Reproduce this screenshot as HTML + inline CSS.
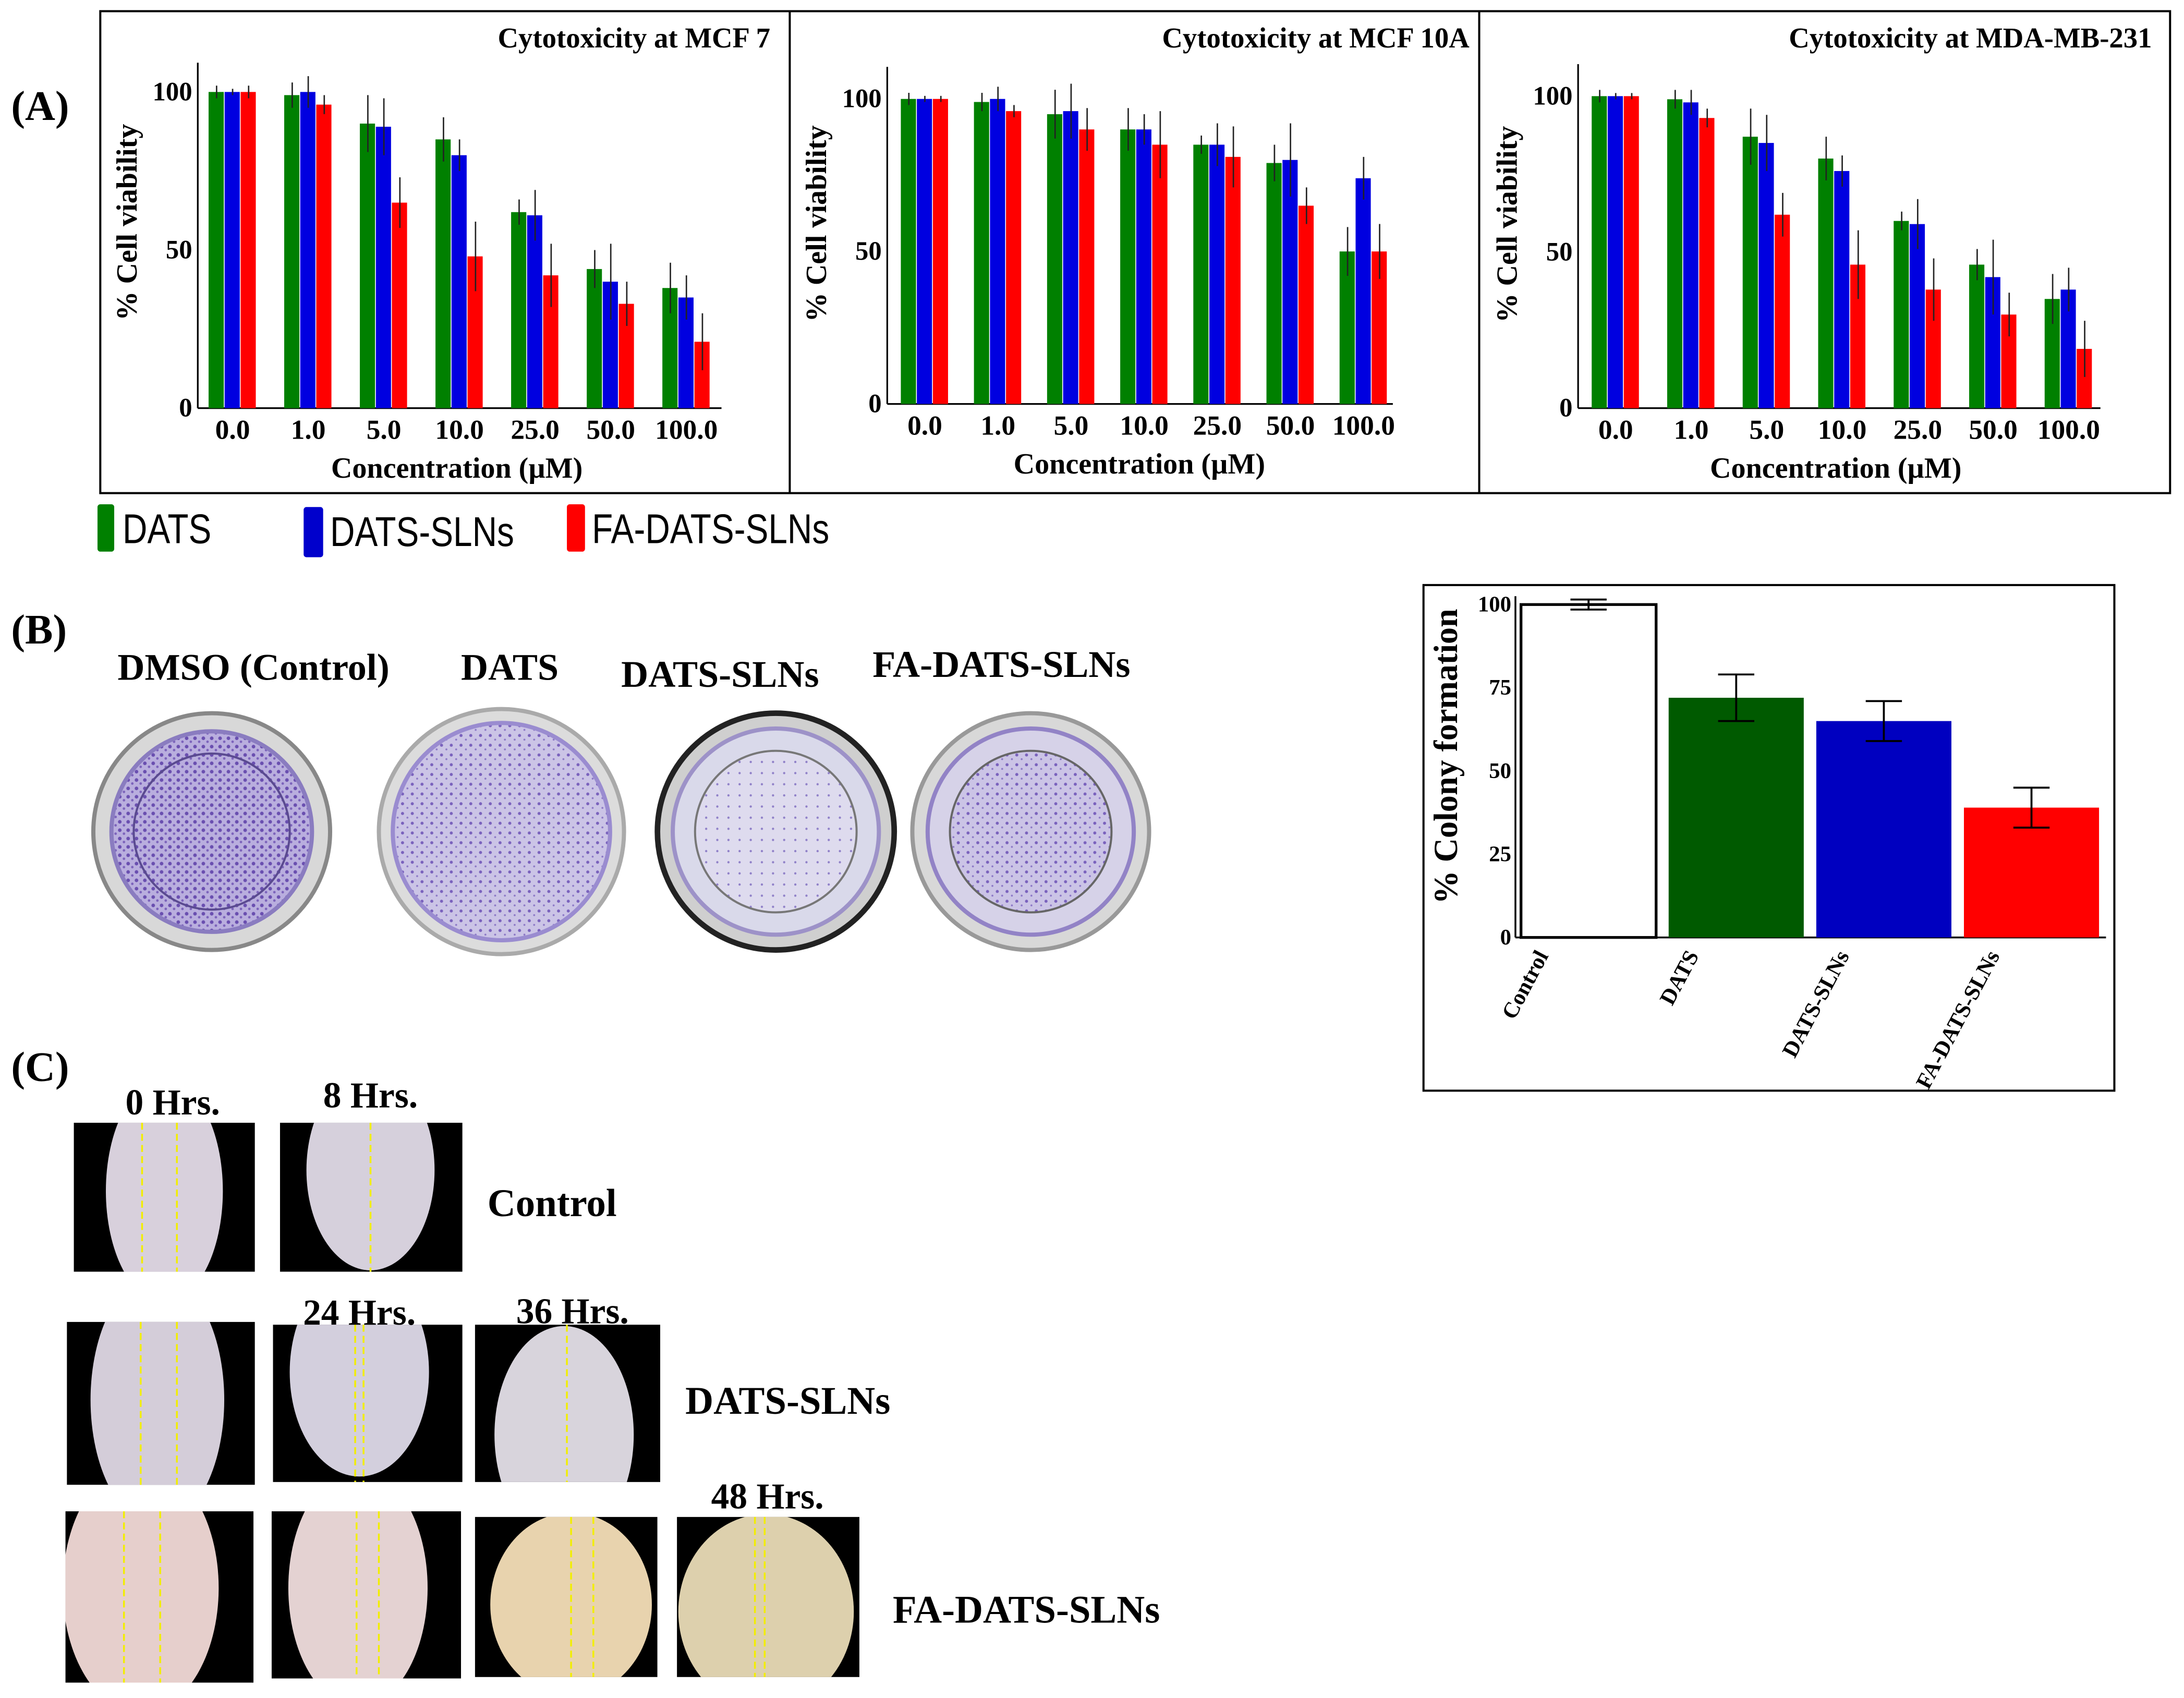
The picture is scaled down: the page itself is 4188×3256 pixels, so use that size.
<!DOCTYPE html>
<html><head><meta charset="utf-8"><style>
html,body{margin:0;padding:0;background:#fff}
svg{display:block}
text{font-family:"Liberation Serif",serif;font-weight:bold;fill:#000}
</style></head><body>
<svg id="fig" xmlns="http://www.w3.org/2000/svg" width="4188" height="3256" viewBox="0 0 1568 1219">
<defs>
<pattern id="dotsDark" width="6" height="6" patternUnits="userSpaceOnUse"><rect width="6" height="6" fill="#b9aede"/><circle cx="2" cy="2" r="1.3" fill="#6a4fb0"/><circle cx="5" cy="4.5" r="0.9" fill="#7c63bb"/></pattern>
<pattern id="dotsMid" width="7" height="7" patternUnits="userSpaceOnUse"><rect width="7" height="7" fill="#cbc4e6"/><circle cx="2" cy="3" r="1.1" fill="#7a62bd"/><circle cx="5.5" cy="6" r="0.7" fill="#8c78c6"/></pattern>
<pattern id="dotsLight" width="8" height="8" patternUnits="userSpaceOnUse"><rect width="8" height="8" fill="#dedbee"/><circle cx="3" cy="3" r="0.8" fill="#8f80c8"/></pattern>
</defs>

<rect x="72" y="8" width="1486" height="346" fill="none" stroke="#000" stroke-width="1.5"/>
<line x1="567" y1="8" x2="567" y2="354" stroke="#000" stroke-width="1.5"/>
<line x1="1062" y1="8" x2="1062" y2="354" stroke="#000" stroke-width="1.5"/>
<text x="8" y="86" font-size="30">(A)</text>
<g id="chartA1"></g>
<g id="chartA2"></g>
<g id="chartA3"></g>

<g>
<g><rect x="70" y="362" width="12" height="34" rx="2" fill="#008000"/><text x="88" y="390" font-size="30" style="font-family:'Liberation Sans',sans-serif;font-weight:normal" transform="translate(88 0) scale(0.82 1) translate(-88 0)">DATS</text></g>
<g><rect x="218" y="364" width="14" height="36" rx="2" fill="#0000cc"/><text x="237" y="392" font-size="30" style="font-family:'Liberation Sans',sans-serif;font-weight:normal" transform="translate(237 0) scale(0.82 1) translate(-237 0)">DATS-SLNs</text></g>
<g><rect x="407" y="362" width="13" height="34" rx="2" fill="#ff0000"/><text x="425" y="390" font-size="30" style="font-family:'Liberation Sans',sans-serif;font-weight:normal" transform="translate(425 0) scale(0.82 1) translate(-425 0)">FA-DATS-SLNs</text></g>
</g>

<text x="8" y="462" font-size="30">(B)</text>
<text x="182" y="488" font-size="27" text-anchor="middle">DMSO (Control)</text>
<text x="366" y="488" font-size="27" text-anchor="middle">DATS</text>
<text x="517" y="493" font-size="27" text-anchor="middle">DATS-SLNs</text>
<text x="719" y="486" font-size="27" text-anchor="middle">FA-DATS-SLNs</text>

<g>
<circle cx="152" cy="597" r="85" fill="#d8d8d8" stroke="#888" stroke-width="3"/>
<circle cx="152" cy="597" r="72" fill="url(#dotsDark)" stroke="#8a7cc0" stroke-width="3"/>
<circle cx="152" cy="597" r="56" fill="none" stroke="#5a4a90" stroke-width="1.5"/>
</g>
<g>
<circle cx="360" cy="597" r="88" fill="#dcdcdc" stroke="#aaa" stroke-width="3"/>
<circle cx="360" cy="597" r="78" fill="url(#dotsMid)" stroke="#9a8cd0" stroke-width="3"/>
</g>
<g>
<circle cx="557" cy="597" r="85" fill="#cfcfcf" stroke="#222" stroke-width="4"/>
<circle cx="557" cy="597" r="74" fill="#d9d9ea" stroke="#9d92c8" stroke-width="3"/>
<circle cx="557" cy="597" r="58" fill="url(#dotsLight)" stroke="#777" stroke-width="1.5"/>
</g>
<g>
<circle cx="740" cy="597" r="85" fill="#d8d8d8" stroke="#999" stroke-width="3"/>
<circle cx="740" cy="597" r="74" fill="#d6d2e8" stroke="#9283c6" stroke-width="3"/>
<circle cx="740" cy="597" r="58" fill="url(#dotsMid)" stroke="#666" stroke-width="1.5"/>
</g>

<rect x="1022" y="420" width="496" height="363" fill="none" stroke="#000" stroke-width="1.5"/>
<g id="chartB"></g>

<text x="8" y="776" font-size="30">(C)</text>
<g id="scratch"></g>
<text x="124" y="800" font-size="26" text-anchor="middle">0 Hrs.</text>
<text x="266" y="795" font-size="26" text-anchor="middle">8 Hrs.</text>
<text x="258" y="951" font-size="26" text-anchor="middle">24 Hrs.</text>
<text x="411" y="950" font-size="26" text-anchor="middle">36 Hrs.</text>
<text x="551" y="1083" font-size="26" text-anchor="middle">48 Hrs.</text>
<text x="350" y="873" font-size="28">Control</text>
<text x="492" y="1015" font-size="28">DATS-SLNs</text>
<text x="641" y="1165" font-size="28">FA-DATS-SLNs</text>
</svg>

<script>
const NS = "http://www.w3.org/2000/svg";
const concLabels = ["0.0","1.0","5.0","10.0","25.0","50.0","100.0"];
const yTicksA = [0, 50, 100];
const seriesNames = ["DATS","DATS-SLNs","FA-DATS-SLNs"];
const mcf7Dats = [100, 99, 90, 85, 62, 44, 38];
const mcf7Slns = [100, 100, 89, 80, 61, 40, 35];
const mcf7Fa   = [100, 96, 65, 48, 42, 33, 21];
const mcf7DatsErr = [2, 4, 9, 7, 4, 6, 8];
const mcf7SlnsErr = [1, 5, 9, 5, 8, 12, 7];
const mcf7FaErr   = [2, 3, 8, 11, 10, 7, 9];
const mcf10aDats = [100, 99, 95, 90, 85, 79, 50];
const mcf10aSlns = [100, 100, 96, 90, 85, 80, 74];
const mcf10aFa   = [100, 96, 90, 85, 81, 65, 50];
const mcf10aDatsErr = [2, 3, 8, 7, 3, 6, 8];
const mcf10aSlnsErr = [1, 4, 9, 5, 7, 12, 7];
const mcf10aFaErr   = [1, 2, 7, 11, 10, 6, 9];
const mdaDats = [100, 99, 87, 80, 60, 46, 35];
const mdaSlns = [100, 98, 85, 76, 59, 42, 38];
const mdaFa   = [100, 93, 62, 46, 38, 30, 19];
const mdaDatsErr = [2, 3, 9, 7, 3, 5, 8];
const mdaSlnsErr = [1, 4, 9, 5, 8, 12, 7];
const mdaFaErr   = [1, 3, 7, 11, 10, 7, 9];
const colonyCats = ["Control","DATS","DATS-SLNs","FA-DATS-SLNs"];
const colonyVals = [100, 72, 65, 39];
const colonyErr  = [1.5, 7, 6, 6];
const yTicksB = [0, 25, 50, 75, 100];

const seriesColors = ["#008000","#0000e0","#ff0000"];

function mk(tag, attrs, parent){
  const e = document.createElementNS(NS, tag);
  for (const k in attrs) e.setAttribute(k, attrs[k]);
  if (parent) parent.appendChild(e);
  return e;
}

function groupedChart(gid, cfg){
  const g = document.getElementById(gid);
  const y = v => cfg.y0 - (v/100)*(cfg.y0 - cfg.y100);
  const x = i => cfg.x0 + i*cfg.step;
  const bw = 11.5;
  const axY = mk("line",{x1:cfg.ax,y1:cfg.axTop,x2:cfg.ax,y2:y(0),stroke:"#000","stroke-width":1.2},g);
  
  
  const axX = mk("line",{x1:cfg.ax,y1:y(0),x2:cfg.axEnd,y2:y(0),stroke:"#000","stroke-width":1.2},g);
  
  
  yTicksA.forEach(t=>{
    const tk = mk("text",{x:cfg.ax-4,y:y(t)+6,"font-size":19,"text-anchor":"end"},g);
    tk.textContent = t;
    
    
  });
  const series = [cfg.s1, cfg.s2, cfg.s3];
  const errs = [cfg.e1, cfg.e2, cfg.e3];
  concLabels.forEach((lab,i)=>{
    const cx = x(i);
    series.forEach((s,k)=>{
      const bx = cx + (k-1)*bw - bw/2;
      const r = mk("rect",{x:bx,y:y(s[i]),width:bw-0.6,height:y(0)-y(s[i]),fill:seriesColors[k]},g);
      
      
      const ex = bx + bw/2;
      const el = mk("line",{x1:ex,y1:y(s[i]+errs[k][i]),x2:ex,y2:y(s[i]-errs[k][i]),stroke:"#222","stroke-width":1},g);
      
      
    });
    const tl = mk("text",{x:cx,y:y(0)+22,"font-size":20,"text-anchor":"middle"},g);
    tl.textContent = lab;
    
    
  });
  const xt = mk("text",{x:cfg.xtx,y:y(0)+50,"font-size":21,"text-anchor":"middle"},g);
  xt.textContent = "Concentration (\u00b5M)";
  
  
  const yt = mk("text",{x:0,y:0,"font-size":21,"text-anchor":"middle",transform:`translate(${cfg.ax-44},${(cfg.y0+cfg.y100)/2-20}) rotate(-90)`},g);
  yt.textContent = "% Cell viability";
  
  
  const tt = mk("text",{x:cfg.titleX,y:34,"font-size":20.5,"text-anchor":"end"},g);
  tt.textContent = cfg.title;
  
  
}

groupedChart("chartA1",{ax:142,axTop:45,axEnd:518,y0:293,y100:66,x0:167,step:54.3,xtx:328,titleX:553,title:"Cytotoxicity at MCF 7",
  s1:mcf7Dats,s2:mcf7Slns,s3:mcf7Fa,e1:mcf7DatsErr,e2:mcf7SlnsErr,e3:mcf7FaErr});
groupedChart("chartA2",{ax:637,axTop:48,axEnd:1000,y0:290,y100:71,x0:664,step:52.5,xtx:818,titleX:1055,title:"Cytotoxicity at MCF 10A",
  s1:mcf10aDats,s2:mcf10aSlns,s3:mcf10aFa,e1:mcf10aDatsErr,e2:mcf10aSlnsErr,e3:mcf10aFaErr});
groupedChart("chartA3",{ax:1133,axTop:46,axEnd:1508,y0:293,y100:69,x0:1160,step:54.2,xtx:1318,titleX:1545,title:"Cytotoxicity at MDA-MB-231",
  s1:mdaDats,s2:mdaSlns,s3:mdaFa,e1:mdaDatsErr,e2:mdaSlnsErr,e3:mdaFaErr});

(function(){
  const g = document.getElementById("chartB");
  const y0 = 673, y100 = 434, ax = 1088;
  const y = v => y0 - (v/100)*(y0-y100);
  const bx0 = 1092, bstep = 106, bwid = 97;
  const fills = ["#ffffff","#005a00","#0000c0","#ff0000"];
  const a1 = mk("line",{x1:ax,y1:428,x2:ax,y2:y0,stroke:"#000","stroke-width":1.3},g);
  
  
  const a2 = mk("line",{x1:ax,y1:y0,x2:1512,y2:y0,stroke:"#000","stroke-width":1.3},g);
  
  
  yTicksB.forEach(t=>{
    const tk = mk("text",{x:ax-3,y:y(t)+5,"font-size":16,"text-anchor":"end"},g);
    tk.textContent = t;
    
    
  });
  colonyCats.forEach((c,i)=>{
    const bx = bx0 + i*bstep;
    const r = mk("rect",{x:bx,y:y(colonyVals[i]),width:bwid,height:y0-y(colonyVals[i]),fill:fills[i],stroke:i===0?"#000":"none","stroke-width":2},g);
    
    
    const ex = bx + bwid/2;
    const e1 = mk("path",{d:`M${ex-13},${y(colonyVals[i]+colonyErr[i])}h26M${ex},${y(colonyVals[i]+colonyErr[i])}V${y(colonyVals[i]-colonyErr[i])}M${ex-13},${y(colonyVals[i]-colonyErr[i])}h26`,stroke:"#000","stroke-width":1.4,fill:"none"},g);
    
    
    const lx = 1112 + i*108, ly = 686;
    const tl = mk("text",{x:0,y:0,"font-size":16,"text-anchor":"end",transform:`translate(${lx},${ly}) rotate(-62)`},g);
    tl.textContent = c;
    
    
  });
  const yt = mk("text",{x:0,y:0,"font-size":24,"text-anchor":"middle",transform:`translate(1046,543) rotate(-90)`},g);
  yt.textContent = "% Colony formation";
  
  
})();

const imgs = [
  [53,806,130,107,118,855,42,80,"#d8d0dc",[102,127]],
  [201,806,131,107,266,840,46,72,"#d6d0dc",[266]],
  [48,949,135,117,113,1005,48,90,"#d4cdd9",[101,127]],
  [196,951,136,113,258,985,50,75,"#d3cfdd",[255,261]],
  [341,951,133,113,405,1030,50,78,"#d8d4dc",[407]],
  [47,1085,135,123,101,1140,56,90,"#e6cfcc",[89,115]],
  [195,1085,136,120,257,1140,50,85,"#e4d2d2",[256,272]],
  [341,1089,131,115,410,1152,58,66,"#e8d3ae",[410,426]],
  [486,1089,131,115,550,1157,63,70,"#ddd0ad",[542,549]]
];
(function(){
  const g = document.getElementById("scratch");
  const defs = document.querySelector("defs");
  imgs.forEach((m,i)=>{
    const cp = mk("clipPath",{id:"clip"+i},defs);
    mk("rect",{x:m[0],y:m[1],width:m[2],height:m[3]},cp);
    const sg = mk("g",{"clip-path":`url(#clip${i})`},g);
    
    
    mk("rect",{x:m[0],y:m[1],width:m[2],height:m[3],fill:"#000"},sg);
    mk("ellipse",{cx:m[4],cy:m[5],rx:m[6],ry:m[7],fill:m[8]},sg);
    m[9].forEach(lx=>{
      mk("line",{x1:lx,y1:m[1],x2:lx,y2:m[1]+m[3],stroke:"#f2ee00","stroke-width":1.3,"stroke-dasharray":"5 3"},sg);
    });
  });
})();
</script>
</body></html>
